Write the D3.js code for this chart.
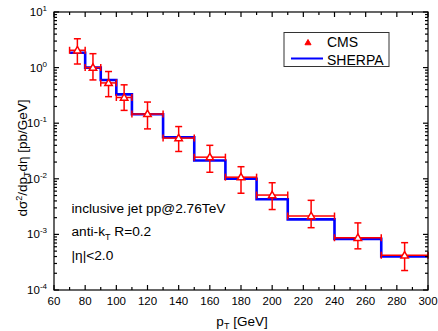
<!DOCTYPE html>
<html><head><meta charset="utf-8">
<script src="https://cdn.jsdelivr.net/npm/d3@7"></script>
<style>body{margin:0;background:#fff}svg{display:block;font-family:"Liberation Sans",Arial,sans-serif}</style>
</head><body><svg id="c" width="438" height="331"></svg>
<script>
const binLo = [70,80,90,100,110,130,150,170,190,210,240,270];
const binHi = [80,90,100,110,130,150,170,190,210,240,270,300];
const cmsX = [75,85,95,105,120,140,160,180,200,225,255,285];
const cmsY = [2.05,1.0,0.53,0.29,0.147,0.054,0.0245,0.0107,0.0051,0.00214,0.00087,0.00042];
const cmsUp = [3.3,1.78,0.85,0.49,0.24,0.087,0.040,0.0165,0.0085,0.0041,0.00161,0.00071];
const cmsDn = [1.16,0.60,0.30,0.17,0.079,0.031,0.0131,0.0055,0.0028,0.00132,0.00055,0.000224];
const sherpa = [1.85,1.0,0.6,0.33,0.145,0.056,0.0214,0.0100,0.0043,0.00186,0.00083,0.00040];
const xTicks = [60,80,100,120,140,160,180,200,220,240,260,280,300];
const yTicks = [1e-4,1e-3,1e-2,1e-1,1,10];
const yExp = ["-4","-3","-2","-1","0","1"];

const svg = d3.select("#c");
const L=54,R=428,T=12,B=290;
const x = d3.scaleLinear().domain([60,300]).range([L,R]);
const y = d3.scaleLog().domain([1e-4,10]).range([B,T]);

// steps SHERPA
const stepPts=[];
binLo.forEach((lo,i)=>{stepPts.push([lo,sherpa[i]]);stepPts.push([binHi[i],sherpa[i]]);});
svg.append("path").attr("d",d3.line().x(d=>x(d[0])).y(d=>y(d[1]))(stepPts))
  .attr("fill","none").attr("stroke","#0000ff").attr("stroke-width",2.6);

// CMS
const red="#ff0000";
const g=svg.append("g").attr("stroke",red).attr("stroke-width",1.5).attr("fill","none");
cmsX.forEach((cx,i)=>{
  const px=x(cx), py=y(cmsY[i]);
  g.append("line").attr("x1",x(binLo[i])).attr("x2",x(binHi[i])).attr("y1",py).attr("y2",py);
  g.append("line").attr("x1",x(binLo[i])).attr("x2",x(binLo[i])).attr("y1",py-3.5).attr("y2",py+3.5);
  g.append("line").attr("x1",x(binHi[i])).attr("x2",x(binHi[i])).attr("y1",py-3.5).attr("y2",py+3.5);
  g.append("line").attr("x1",px).attr("x2",px).attr("y1",y(cmsUp[i])).attr("y2",y(cmsDn[i]));
  g.append("line").attr("x1",px-3.5).attr("x2",px+3.5).attr("y1",y(cmsUp[i])).attr("y2",y(cmsUp[i]));
  g.append("line").attr("x1",px-3.5).attr("x2",px+3.5).attr("y1",y(cmsDn[i])).attr("y2",y(cmsDn[i]));
  g.append("path").attr("d",d3.symbol(d3.symbolTriangle,24)()).attr("transform",`translate(${px},${py+0.5})`)
    .attr("fill","#fff").attr("stroke",red).attr("stroke-width",1.5);
});

// axes frame
const ax=svg.append("g").attr("stroke","#000").attr("stroke-width",1.2);
ax.append("rect").attr("x",L).attr("y",T).attr("width",R-L).attr("height",B-T).attr("fill","none");
for(let v=60;v<=300;v+=10){
  const len = v%20===0?5:3;
  ax.append("line").attr("x1",x(v)).attr("x2",x(v)).attr("y1",B).attr("y2",B-len);
  ax.append("line").attr("x1",x(v)).attr("x2",x(v)).attr("y1",T).attr("y2",T+len);
}
for(let e=-4;e<=1;e++){
  for(let m=1;m<=9;m++){
    const v=m*Math.pow(10,e); if(v>10) break;
    const len=m===1?5:3;
    ax.append("line").attr("x1",L).attr("x2",L+len).attr("y1",y(v)).attr("y2",y(v));
    ax.append("line").attr("x1",R).attr("x2",R-len).attr("y1",y(v)).attr("y2",y(v));
  }
}
// x tick labels
svg.append("g").selectAll("text").data(xTicks).join("text")
  .attr("x",d=>x(d)).attr("y",B+15).attr("text-anchor","middle").attr("font-size",11.5).text(d=>d);
// y tick labels
yTicks.forEach((v,i)=>{
  const t=svg.append("text").attr("x",L-7).attr("y",y(v)+4).attr("text-anchor","end").attr("font-size",11.5);
  t.append("tspan").text("10");
  t.append("tspan").attr("dy",-5).attr("font-size",8).text(yExp[i]);
});
// axis titles
const xt=svg.append("text").attr("x",242).attr("y",326).attr("text-anchor","middle").attr("font-size",13.5);
xt.append("tspan").text("p");
xt.append("tspan").attr("dy",3).attr("font-size",9).text("T");
xt.append("tspan").attr("dy",-3).text(" [GeV]");
const yt=svg.append("text").attr("transform","translate(27,158) rotate(-90)").attr("text-anchor","middle").attr("font-size",13.5);
yt.append("tspan").text("dσ");
yt.append("tspan").attr("dy",-5).attr("font-size",9).text("2");
yt.append("tspan").attr("dy",5).text("/dp");
yt.append("tspan").attr("dy",3).attr("font-size",9).text("T");
yt.append("tspan").attr("dy",-3).text("dη [pb/GeV]");

// annotations
svg.append("text").attr("x",71.5).attr("y",212.5).attr("font-size",13.7).text("inclusive jet pp@2.76TeV");
const ak=svg.append("text").attr("x",71.5).attr("y",236).attr("font-size",13.7);
ak.append("tspan").text("anti-k");
ak.append("tspan").attr("dy",3.5).attr("font-size",9).text("T");
ak.append("tspan").attr("dy",-3.5).text(" R=0.2");
svg.append("text").attr("x",71.5).attr("y",259.5).attr("font-size",13.7).text("|η|<2.0");

// legend
svg.append("rect").attr("x",284).attr("y",32.5).attr("width",105).attr("height",34).attr("fill","#fff").attr("stroke","#333").attr("stroke-width",1);
svg.append("path").attr("d",d3.symbol(d3.symbolTriangle,16)()).attr("transform","translate(308,43)")
  .attr("fill",red).attr("stroke",red).attr("stroke-width",1);
svg.append("text").attr("x",327).attr("y",47.3).attr("font-size",14).text("CMS");
svg.append("line").attr("x1",291).attr("x2",323).attr("y1",58.5).attr("y2",58.5).attr("stroke","#0000ff").attr("stroke-width",2);
svg.append("text").attr("x",327).attr("y",65).attr("font-size",14).text("SHERPA");
</script></body></html>
